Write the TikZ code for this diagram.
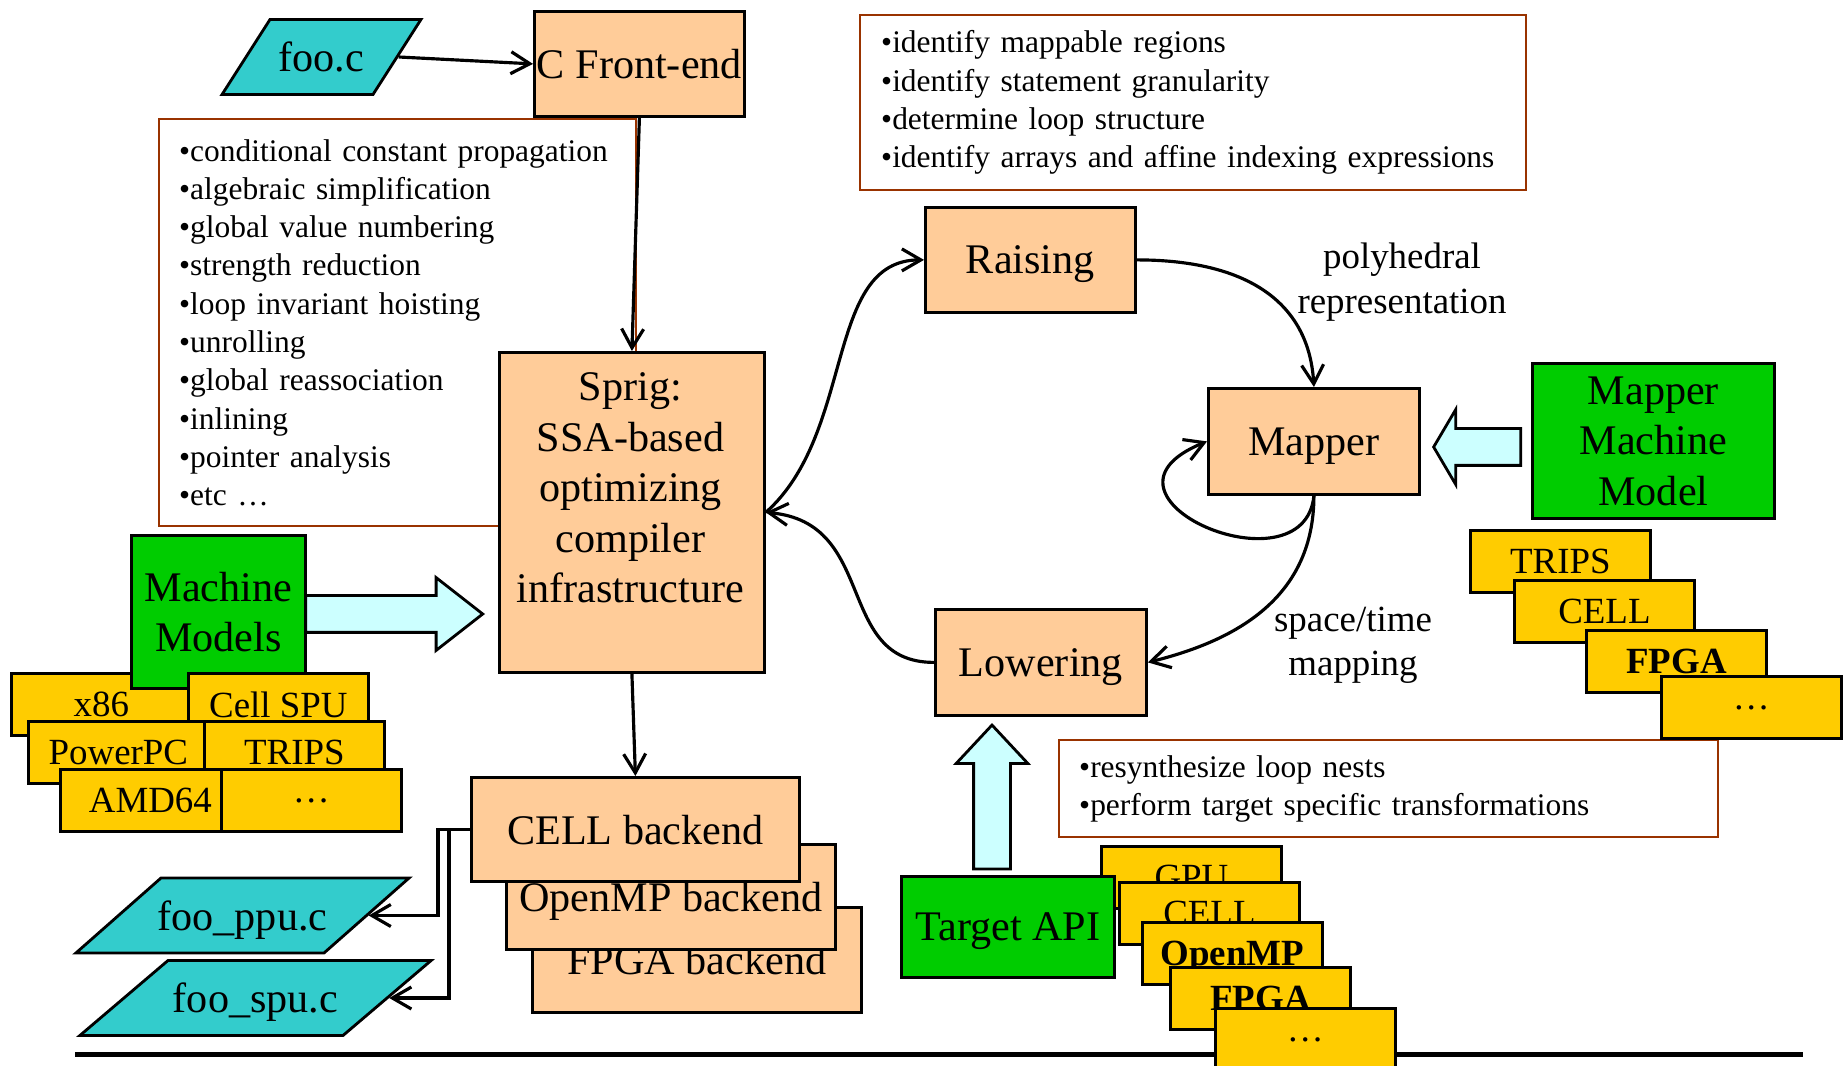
\documentclass[tikz,border=0pt]{standalone}
\usepackage{fontspec}
\setmainfont{Liberation Serif}
\usetikzlibrary{positioning,arrows.meta,shapes.geometric,shapes.arrows}

\definecolor{peach}{HTML}{FFCC99}
\definecolor{modelgreen}{HTML}{00CC00}
\definecolor{chipyellow}{HTML}{FFCC00}
\definecolor{filecyan}{HTML}{33CCCC}
\definecolor{arrowcyan}{HTML}{CCFFFF}
\definecolor{notebrown}{HTML}{993300}

\tikzset{
    stage/.style={draw,line width=0.8pt,fill=peach,font=\fontsize{12}{14.4}\selectfont,align=center,inner sep=0pt,text depth=0pt,anchor=north west},
    model/.style={stage,fill=modelgreen},
    chip/.style={draw,line width=0.8pt,fill=chipyellow,font=\fontsize{10.5}{12.6}\selectfont,minimum width=1.8cm,minimum height=0.62cm,inner sep=0pt,text depth=0pt,anchor=north west},
    srcfile/.style={trapezium,draw,line width=0.8pt,fill=filecyan,font=\fontsize{12}{14.4}\selectfont,inner xsep=0pt,inner ysep=0.23cm,text height=0.29cm,text depth=0pt},
    notes/.style={draw=notebrown,line width=0.7pt,align=left,font=\fontsize{8.95}{10.9}\selectfont,inner xsep=0.2cm,inner ysep=0pt,anchor=north west},
    bigarrow/.style={single arrow,draw,line width=0.8pt,fill=arrowcyan,inner xsep=0pt,inner ysep=0.17cm,anchor=tip},
    flow/.style={-{Straight Barb[length=1.9mm,width=2.2mm]},line width=0.9pt},
    caption/.style={font=\fontsize{10.5}{12.6}\selectfont,align=center}
}

\begin{document}
\begin{tikzpicture}
    \useasboundingbox (0,0) rectangle (18.45,-10.66);
    \draw[line width=1.6pt] (0.75,-10.545) -- (18.03,-10.545);

    \node[notes,minimum width=4.77cm,minimum height=4.07cm,text width=4.37cm] (optlist) at (1.58,-1.18) {•conditional constant propagation\\•algebraic simplification\\•global value numbering\\•strength reduction\\•loop invariant hoisting\\•unrolling\\•global reassociation\\•inlining\\•pointer analysis\\•etc …};
    \node[notes,minimum width=6.66cm,minimum height=1.75cm,text width=6.24cm] (raiselist) at (8.59,-0.14) {•identify mappable regions\\•identify statement granularity\\•determine loop structure\\•identify arrays and affine indexing expressions};
    \node[notes,minimum width=6.59cm,minimum height=0.97cm,text width=6.19cm] (lowerlist) at (10.58,-7.39) {•resynthesize loop nests\\•perform target specific transformations};

    \node[srcfile,trapezium left angle=57.4,trapezium right angle=122.6] (fooc) at (3.215,-0.57) {\makebox[1.03cm]{foo.c}};
    \node[stage,minimum width=2.10cm,minimum height=1.05cm] (cfe) at (5.33,-0.10) {C Front-end};
    \node[stage,minimum width=2.65cm,minimum height=3.20cm] (sprig) at (4.98,-3.51) {};
    \node[font=\fontsize{12}{14.4}\selectfont,align=center] (sprigtext) at (6.305,-4.88) {Sprig:\\SSA-based\\optimizing\\compiler\\infrastructure};

    \node[stage,minimum width=2.10cm,minimum height=1.05cm] (raising) at (9.24,-2.06) {Raising};
    \node[stage,minimum width=2.11cm,minimum height=1.06cm] (mapper) at (12.07,-3.87) {Mapper};
    \node[stage,minimum width=2.11cm,minimum height=1.06cm] (lowering) at (9.34,-6.08) {Lowering};
    \node[model,minimum width=2.42cm,minimum height=1.55cm] (mmm) at (15.31,-3.62) {Mapper\\Machine\\Model};

    \node[chip] (x86) at (0.10,-6.72) {x86};
    \node[model,minimum width=1.74cm,minimum height=1.53cm] (mm) at (1.30,-5.34) {Machine\\Models};
    \node[chip] (cellspu) at (1.87,-6.72) {Cell SPU};
    \node[chip] (ppc) at (0.27,-7.20) {PowerPC};
    \node[chip] (tripsl) at (2.03,-7.20) {TRIPS};
    \node[chip] (amd) at (0.59,-7.68) {AMD64};
    \node[chip] (dotsl) at (2.20,-7.68) {…};

    \node[stage,minimum width=3.29cm,minimum height=1.05cm] (fpgab) at (5.31,-9.06) {FPGA backend};
    \node[stage,minimum width=3.29cm,minimum height=1.05cm] (ompb) at (5.05,-8.43) {OpenMP backend};
    \node[stage,minimum width=3.28cm,minimum height=1.04cm] (cellb) at (4.70,-7.76) {CELL backend};

    \node[srcfile,trapezium left angle=41.4,trapezium right angle=138.6] (ppu) at (2.425,-9.155) {\makebox[1.63cm]{foo\_ppu.c}};
    \node[srcfile,trapezium left angle=40.4,trapezium right angle=139.6] (spu) at (2.555,-9.98) {\makebox[1.75cm]{foo\_spu.c}};

    \node[chip] (gpu) at (11.00,-8.45) {GPU};
    \node[model,minimum width=2.13cm,minimum height=1.01cm] (tapi) at (9.00,-8.75) {Target API};
    \node[chip] (cellt) at (11.18,-8.81) {CELL};
    \node[chip,font=\fontsize{10.5}{12.6}\selectfont\bfseries] (ompt) at (11.41,-9.21) {OpenMP};
    \node[chip,font=\fontsize{10.5}{12.6}\selectfont\bfseries] (fpgat) at (11.69,-9.66) {FPGA};
    \node[chip] (dotst) at (12.14,-10.07) {…};

    \node[chip] (tripsr) at (14.69,-5.29) {TRIPS};
    \node[chip] (cellr) at (15.13,-5.79) {CELL};
    \node[chip,font=\fontsize{10.5}{12.6}\selectfont\bfseries] (fpgar) at (15.85,-6.29) {FPGA};
    \node[chip] (dotsr) at (16.60,-6.75) {…};

    \node[bigarrow,minimum height=1.77cm,minimum width=0.70cm,single arrow head extend=0.18cm,single arrow tip angle=76] (mmarrow) at (4.85,-6.14) {};
    \node[bigarrow,shape border rotate=180,minimum height=0.87cm,minimum width=0.71cm,single arrow head extend=0.19cm,single arrow tip angle=119] (mmmarrow) at (14.32,-4.47) {};
    \node[bigarrow,shape border rotate=90,inner xsep=0.17cm,inner ysep=0pt,minimum height=1.44cm,minimum width=0.69cm,single arrow head extend=0.175cm,single arrow tip angle=86] (taarrow) at (9.92,-7.23) {};

    \draw[flow] (fooc.east) -- (cfe.west);
    \draw[flow] (cfe.south) -- (sprig.north);
    \draw[flow] (sprig.south) -- (cellb.north);
    \draw[flow] (sprig.east) .. controls +(0.9,0.8) and +(-1.0,0) .. (raising.west);
    \draw[flow] (lowering.west) .. controls +(-1.0,0) and +(1.13,-0.1) .. (sprig.east);
    \draw[flow] (raising.east) .. controls +(1.1,0) and +(-0.05,0.85) .. (mapper.north);
    \draw[flow] (mapper.south) .. controls +(-0.1,-1.0) and +(-1.35,-0.55) .. (mapper.west);
    \draw[flow] (mapper.south) .. controls +(0,-1.07) and +(0.8,0.2) .. (lowering.east);
    \draw[flow] (cellb.west) -- ++(-0.32,0) |- (ppu);
    \draw[flow] (cellb.west) -- ++(-0.21,0) |- (spu);

    \node[caption] (polylabel) at (14.02,-2.82) {polyhedral\\representation};
    \node[caption] (maplabel) at (13.53,-6.45) {space/time\\mapping};
\end{tikzpicture}
\end{document}
